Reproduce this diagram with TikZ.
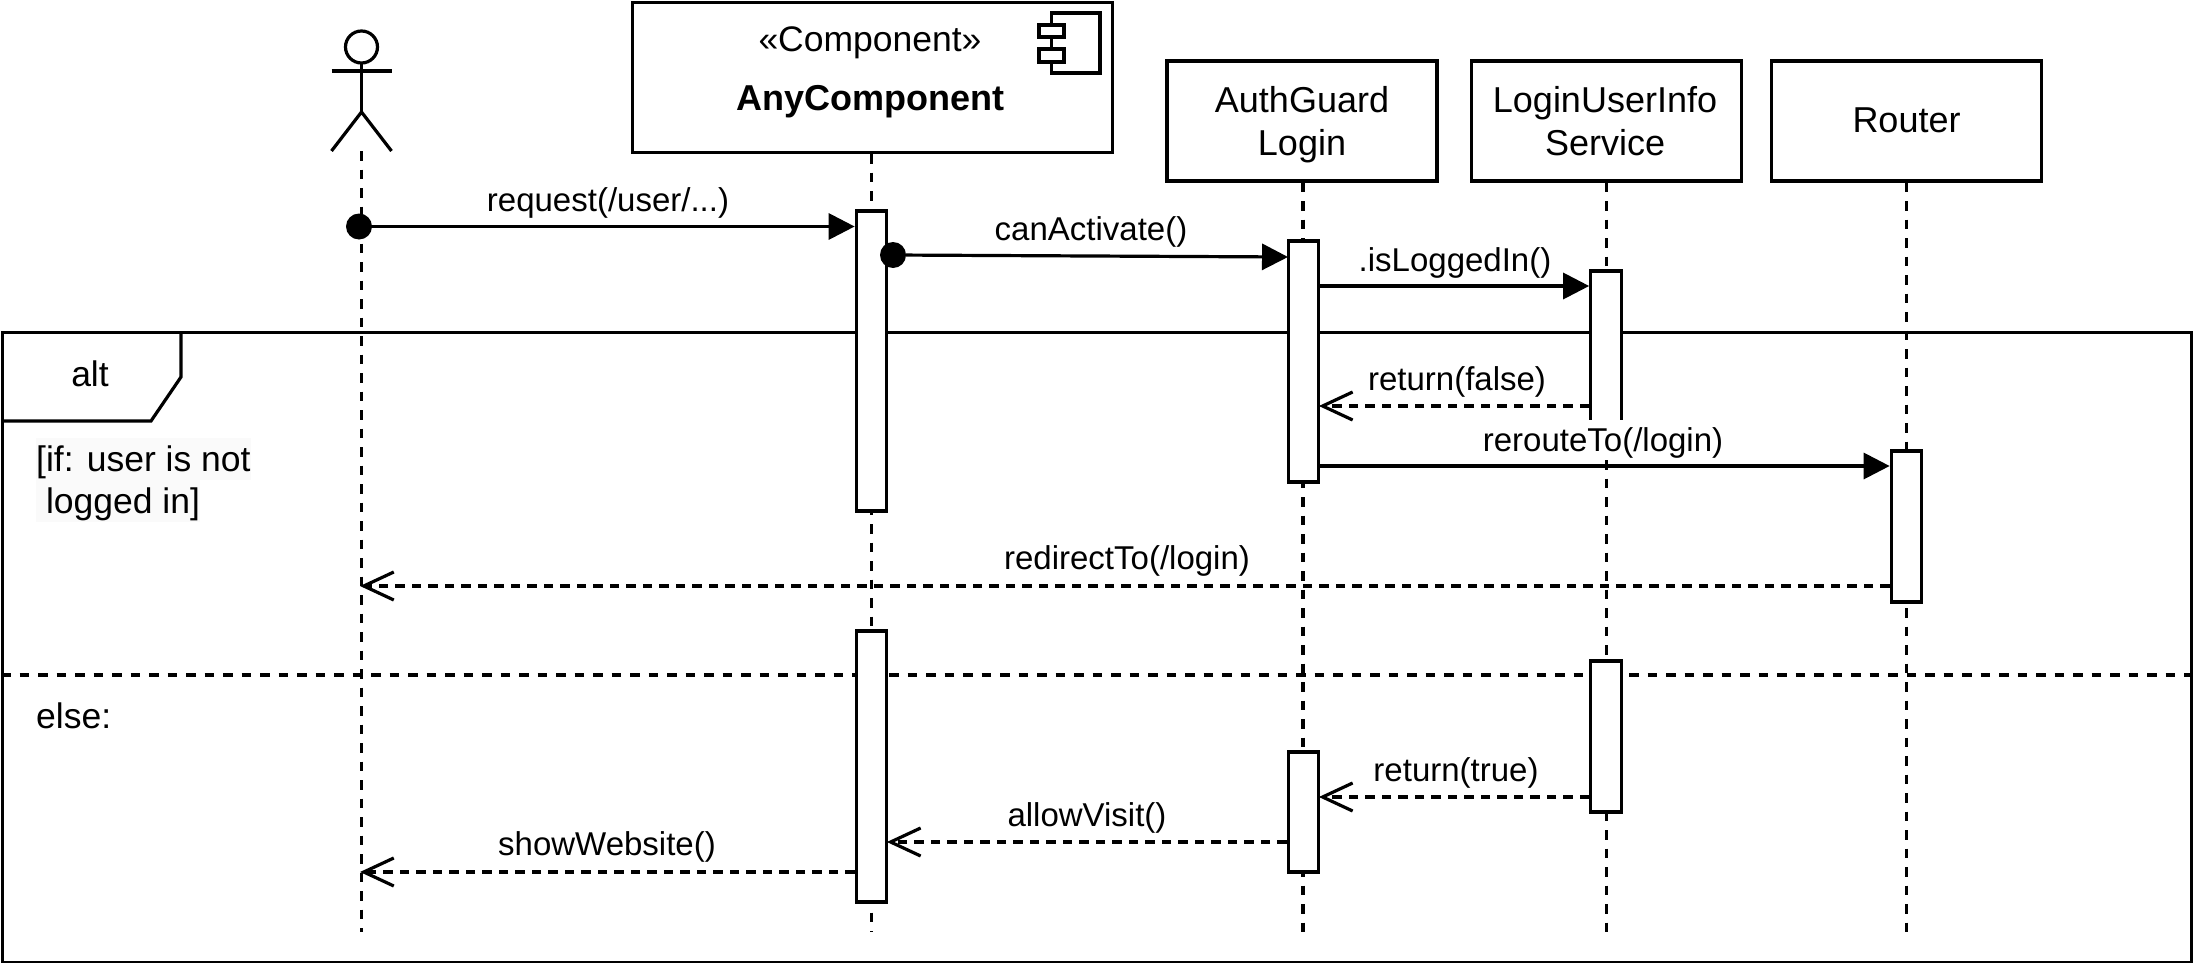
\documentclass[tikz,border=0pt]{standalone}
\usepackage{fontspec}
\setmainfont{Liberation Sans}
\usetikzlibrary{arrows.meta,calc}
\definecolor{labelbg}{HTML}{FAFAFA}
\newcommand{\hdtop}{\rule{0pt}{33.5pt}}
\newcommand{\hdbot}{\rule[-7.5pt]{0pt}{7.5pt}}
\tikzset{
  x=1pt,y=-1pt,
  stroke/.style={line width=3.2pt,draw=black},
  boxfont/.style={font=\fontsize{36}{43}\selectfont},
  framefont/.style={font=\fontsize{35.5}{42}\selectfont},
  msgfont/.style={font=\fontsize{33}{38}\selectfont},
  headbox/.style={stroke,fill=white,boxfont,align=center,inner sep=0pt,minimum width=270pt,minimum height=120pt},
  actbox/.style={stroke,fill=white,inner sep=0pt,minimum width=30.5pt},
  lifeline/.style={stroke,dash pattern=on 9.5pt off 9pt},
  syncmsg/.style={stroke,-{Triangle[length=26pt,width=26pt]}},
  retmsg/.style={stroke,dash pattern=on 9.5pt off 7pt,shorten >=-1.5pt,-{Straight Barb[length=30pt,width=28pt]}},
  dotstart/.style={circle,fill=black,inner sep=0pt,minimum size=26pt},
  msglabel/.style={msgfont,inner sep=0pt,text height=29pt,text depth=7pt},
  framelabel/.style={framefont,inner sep=0pt,text height=31pt,text depth=7.5pt},
}
\begin{document}
\begin{tikzpicture}
\useasboundingbox (0,0) rectangle (2199,963);
% frame
\node[stroke,inner sep=0pt,minimum width=2189pt,minimum height=630pt,anchor=north west] (frame) at (1,331) {};
\draw[stroke,line join=miter] (181,331) -- (181,377) -- (151,421) -- (1,421);
\coordinate (elseL) at (1,675);
\coordinate (elseR) at (2190,675);
\draw[stroke,dash pattern=on 9.5pt off 9pt] (elseL) -- (elseR);

% lifeline heads
\coordinate (actorfoot) at (361.5,151);
\node[stroke,fill=white,inner sep=0pt,minimum width=480pt,minimum height=150pt,anchor=north west] (comp) at (631,1) {};
\node[headbox] (guard) at (1302,121) {\hdtop AuthGuard\\Login\hdbot};
\node[headbox] (info) at (1606.5,121) {\hdtop LoginUserInfo\kern 3pt\\Service\kern 3pt\hdbot};
\node[headbox,text height=30.5pt,text depth=7.5pt] (router) at (1906.5,121) {Router};

% lifeline ends
\coordinate (endA) at (361.5,932);
\coordinate (endC) at (871.5,932);
\coordinate (endG) at (1303,932);
\coordinate (endI) at (1606.5,932);
\coordinate (endR) at (1906.5,932);
\draw[lifeline] (actorfoot) -- (endA);
\draw[lifeline] (comp.south -| endC) -- (endC);
\draw[lifeline] (guard.south -| endG) -- (endG);
\draw[lifeline] (info.south) -- (endI);
\draw[lifeline] (router.south) -- (endR);

% actor
\draw[stroke] (361.5,47) circle (16);
\draw[stroke,line join=miter] (361.5,63) -- (361.5,112);
\draw[stroke] (331.5,71) -- (391.5,71);
\draw[stroke,line join=bevel] (331.5,151) -- (361.5,112) -- (391.5,151);

% component texts and icon
\node[framelabel,font=\fontsize{35.5}{42}\selectfont] (compstereo) at (870,39.5) {«Component»};
\node[framelabel,font=\fontsize{36}{42}\selectfont\bfseries] (compname) at (870,98.5) {AnyComponent};
\draw[stroke] (1051.5,13) rectangle (1100,73);
\draw[stroke,fill=white] (1039,25) rectangle (1064,37);
\draw[stroke,fill=white] (1039,49) rectangle (1064,62);

% activations
\node[actbox,minimum height=300pt] (c1) at (871.5,361) {};
\node[actbox,minimum height=241pt] (g1) at (1303.5,361.5) {};
\node[actbox,minimum height=170pt] (i1) at (1606,356) {};
\node[actbox,minimum height=151pt] (r1) at (1906.5,526.5) {};
\node[actbox,minimum height=271pt] (c2) at (871.5,766.5) {};
\node[actbox,minimum height=151pt] (i2) at (1606,736.5) {};
\node[actbox,minimum height=120pt] (g2) at (1303.5,812) {};

% message rows
\coordinate (y1) at (0,226.5);
\coordinate (y3) at (0,286);
\coordinate (y4) at (0,406);
\coordinate (y5) at (0,466);
\coordinate (y6) at (0,586);
\coordinate (y7) at (0,797);
\coordinate (y8) at (0,842);
\coordinate (y9) at (0,872);

\node[dotstart] (d1) at (359,226.5) {};
\node[dotstart] (d2) at (893,255) {};
\coordinate (t2) at (1288,257);
\draw[syncmsg] (d1) -- (c1.west |- y1);
\draw[syncmsg] (d2) -- (t2);
\draw[syncmsg] (g1.east |- y3) -- (i1.west |- y3);
\draw[retmsg] (i1.west |- y4) -- (g1.east |- y4);
\draw[syncmsg] (g1.east |- y5) -- (r1.west |- y5);
\draw[retmsg] (r1.west |- y6) -- (endA |- y6);
\draw[retmsg] (i2.west |- y7) -- (g2.east |- y7);
\draw[retmsg] (g2.west |- y8) -- (c2.east |- y8);
\draw[retmsg] (c2.west |- y9) -- (endA |- y9);

% message labels
\node[msglabel] (l1) at (608,200) {request(/user/...)};
\node[msglabel] (l2) at (1091,229) {canActivate()};
\node[msglabel] (l3) at (1455,260) {.isLoggedIn()};
\node[msglabel] (l4) at (1457,379) {return(false)};
\node[msglabel,fill=white,text height=31pt,text depth=9pt] (l5) at (1603,440) {rerouteTo(/login)};
\node[msglabel] (l6) at (1127,558) {redirectTo(/login)};
\node[msglabel] (l7) at (1456,770) {return(true)};
\node[msglabel] (l8) at (1087,815) {allowVisit()};
\node[msglabel] (l9) at (607,844) {showWebsite()};

% frame labels
\node[framelabel] (alt) at (90,375) {alt};
\node[framelabel,fill=labelbg,anchor=west,text height=33pt,text depth=9pt] (g1txt) at (36,459) {[if: user is not};
\node[framelabel,fill=labelbg,anchor=west,text height=33pt,text depth=9pt] (g2txt) at (36,501) {\ logged in]};
\node[framelabel,anchor=west] (elsetxt) at (36,717) {else:};
\end{tikzpicture}
\end{document}
